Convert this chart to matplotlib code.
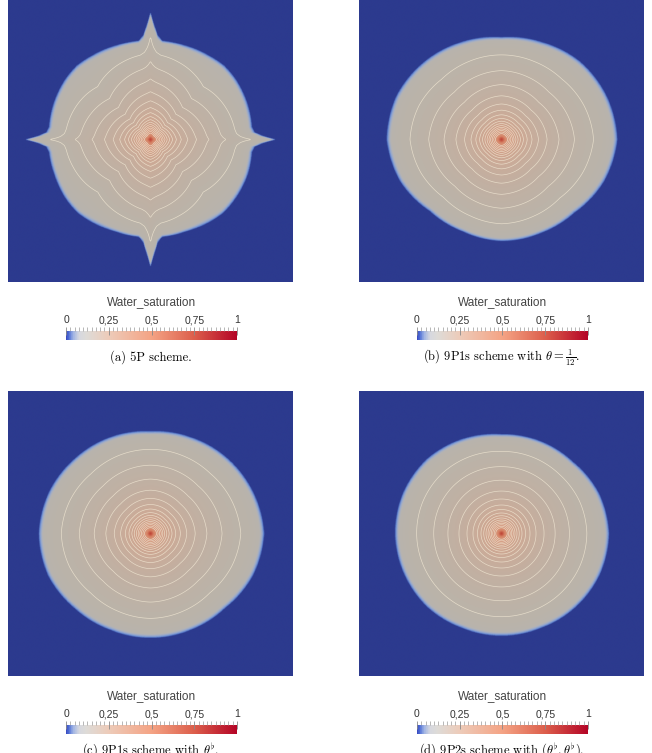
import numpy as np
from matplotlib import pyplot as plt
from matplotlib.colors import LinearSegmentedColormap, Normalize
from matplotlib.cm import ScalarMappable
from matplotlib.ticker import MultipleLocator

plt.rcParams['font.family'] = ['Liberation Sans', 'DejaVu Sans']
plt.rcParams['mathtext.fontset'] = 'cm'

W, H = 652, 753
L = 285.0  # domain width (mesh units, read in px)

# water front radius vs polar angle
angles_a = [0, 1.0, 2.0, 4.0, 7.0, 20, 35, 45, 55, 70,
            83, 86, 88, 89, 90, 91, 92, 94, 97,
            110, 125, 135, 145, 160,
            173, 176, 178, 179, 180, 181, 182, 184, 187,
            200, 215, 225, 235, 250,
            263, 266, 268, 269, 270, 271, 272, 274, 277,
            290, 305, 315, 325, 340,
            353, 356, 358, 359]
radius_a = [120, 113, 107, 100, 98, 99, 100, 100, 98, 96,
            95, 100, 109, 115, 122, 115, 109, 100, 95,
            96, 98, 100, 100, 99,
            98, 100, 107, 113, 120, 113, 107, 100, 98,
            98, 99, 99, 97, 94,
            93, 99, 109, 115, 122, 115, 109, 99, 93,
            94, 97, 99, 99, 99,
            98, 100, 107, 113]

angles_16 = [0, 22.5, 45, 67.5, 90, 112.5, 135, 157.5,
             180, 202.5, 225, 247.5, 270, 292.5, 315, 337.5]
radius_b = [111, 109, 106, 101, 98, 101, 105, 109, 110, 105, 97, 95, 97, 97, 99, 106]
radius_c = [109, 106, 103, 100, 98, 100, 102, 105, 107, 106, 102, 100, 100, 100, 101, 106]
radius_d = [103, 101, 97, 96, 95, 98, 101, 102, 102, 101, 100, 98, 98, 98, 100, 102]

# shape of the innermost iso-lines (relative radius)
core_angles = [0, 45, 90, 135, 180, 225, 270, 315]
core_a = [1.08, 0.84, 1.12, 0.84, 1.08, 0.84, 1.12, 0.84]
core_b = [1.04, 0.95, 1.0, 0.95, 1.04, 0.95, 1.0, 0.95]
core_c = [1.03, 0.97, 1.0, 0.97, 1.03, 0.97, 1.0, 0.97]
core_d = [1.0, 1.0, 1.0, 1.0, 1.0, 1.0, 1.0, 1.0]

profile_rho = [0.0, 0.015, 0.03, 0.05, 0.065, 0.08, 0.095, 0.11, 0.125, 0.145, 0.165,
               0.19, 0.22, 0.26, 0.31, 0.38, 0.47, 0.6, 0.75, 0.93, 1.0,
               1.02, 1.05, 2.0]
profile_sat = [0.82, 0.7, 0.55, 0.44, 0.42, 0.40, 0.38, 0.36, 0.34, 0.32, 0.30,
               0.28, 0.26, 0.24, 0.22, 0.20, 0.18, 0.16, 0.14, 0.12, 0.11,
               0.06, 0.0, 0.0]
contour_levels = [0.13, 0.15, 0.17, 0.19, 0.21, 0.23, 0.25, 0.27,
                  0.29, 0.31, 0.33, 0.35, 0.37, 0.39, 0.41, 0.43]

tick_values = [0, 0.25, 0.5, 0.75, 1]
tick_labels = ['0', '0,25', '0,5', '0,75', '1']
captions = ['(a) 5P scheme.',
            r'(b) 9P1s scheme with $\theta = \frac{1}{12}$.',
            r'(c) 9P1s scheme with $\theta^{\flat}$.',
            r'(d) 9P2s scheme with $(\theta^{\flat}, \theta^{\flat})$.']

cmap_nodes = [0.0, 0.015, 0.04, 0.075, 0.12, 0.25, 0.5, 0.75, 1.0]
cbar_colors = ['#3b4cc0', '#4f6fd6', '#9fb3e3', '#d6d8df', '#dedbd7',
               '#edcbb9', '#f4a384', '#dc5e4b', '#b40426']
field_colors = ['#2c3a8e', '#5a7fcf', '#93a7d0', '#b3b3b6', '#bab4aa',
                '#cbab98', '#d98a6c', '#c4503e', '#98061f']
cbar_cmap = LinearSegmentedColormap.from_list('sat', list(zip(cmap_nodes, cbar_colors)))
field_cmap = LinearSegmentedColormap.from_list('sat_lit', list(zip(cmap_nodes, field_colors)))

xs = np.linspace(0, L, 500)
X, Y = np.meshgrid(xs, xs)
r = np.hypot(X - L / 2, Y - L / 2)
th = np.degrees(np.arctan2(Y - L / 2, X - L / 2)) % 360


def saturation(angles, radii, core):
    r_mean = np.median(radii)
    r_front = np.interp(th, angles, radii, period=360)
    r_core = np.interp(th, core_angles, core, period=360) * r_mean
    w = np.clip(r / r_mean, 0, 1) ** 4
    rho = r / ((1 - w) * r_core + w * r_front)
    return np.interp(rho, profile_rho, profile_sat)


fig = plt.figure(figsize=(W / 100, H / 100), dpi=100)


def px_axes(left, top, width, height):
    return fig.add_axes([left / W, 1 - (top + height) / H, width / W, height / H])


# panel: plot left/top, colorbar left/top, caption baseline (px)
panels = [(angles_a, radius_a, core_a, 8, -3, 66, 331, 361),
          (angles_16, radius_b, core_b, 359, -3, 417, 331, 361),
          (angles_16, radius_c, core_c, 8, 391, 66, 725, 755),
          (angles_16, radius_d, core_d, 359, 391, 417, 725, 755)]

for (ang, rad, core, x0, y0, cx0, cy0, cap_y), cap in zip(panels, captions):
    S = saturation(ang, rad, core)
    ax = px_axes(x0, y0, 285, 285)
    ax.imshow(S, origin='lower', extent=[0, L, 0, L], cmap=field_cmap,
              norm=Normalize(0, 1), interpolation='bilinear', aspect='auto')
    ax.contour(X, Y, S, levels=contour_levels, colors='#f3ead6',
               linewidths=0.5, alpha=0.75)
    ax.set_axis_off()

    cax = px_axes(cx0, cy0, 171, 9)
    cb = fig.colorbar(ScalarMappable(norm=Normalize(0, 1), cmap=cbar_cmap),
                      cax=cax, orientation='horizontal', ticklocation='top')
    cb.outline.set_visible(False)
    cb.set_ticks(tick_values, labels=tick_labels)
    cax.xaxis.set_minor_locator(MultipleLocator(0.025))
    cax.tick_params(which='major', direction='inout', length=5.5, width=0.6,
                    color='#8a8a8a', labelsize=7.5, pad=1.5, labelcolor='#333333')
    cax.tick_params(which='minor', direction='out', length=2.8, width=0.5,
                    color='#9a9a9a')
    fig.text((cx0 + 85.5) / W, 1 - (cy0 - 29) / H, 'Water_saturation',
             fontsize=8.5, ha='center', va='center', color='#444444')

    # captions sit at the page edge, bottom row is cut like in the source
    fig.text((x0 + 142.5) / W, 1 - cap_y / H, cap, fontsize=9, family='cmr10',
             ha='center', va='baseline')

fig.savefig('out.png', dpi=100)
